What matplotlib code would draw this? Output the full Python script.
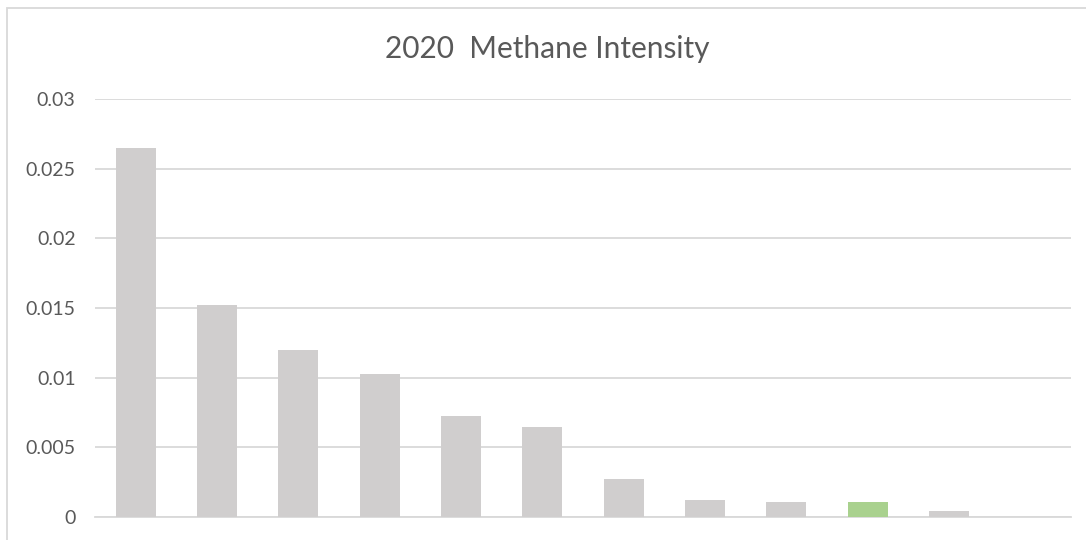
import matplotlib
matplotlib.use("Agg")
import matplotlib.pyplot as plt
from matplotlib.patches import Rectangle

plt.rcParams['font.family'] = ['Lato', 'DejaVu Sans']

# values
categories = [str(i) for i in range(1, 13)]
intensity = [0.0265, 0.0152, 0.0120, 0.01026, 0.00725, 0.00646,
             0.00273, 0.00122, 0.00105, 0.00105, 0.00045, 0.00003]
highlight = 9  # index of the green bar
yticks = [0, 0.005, 0.01, 0.015, 0.02, 0.025, 0.03]
ytick_labels = ["0", "0.005", "0.01", "0.015", "0.02", "0.025", "0.03"]

grey = "#d0cece"
green = "#a9d18e"
text_col = "#595959"
grid_col = "#d9d9d9"

fig = plt.figure(figsize=(10.86, 5.40), dpi=100)
ax = fig.add_axes([95 / 1086, 1 - 517 / 540, (1071 - 95) / 1086, (517 - 99) / 540])

colors = [green if i == highlight else grey for i in range(len(intensity))]
ax.bar(range(len(intensity)), intensity, width=0.49, color=colors, zorder=3)

ax.set_xlim(-0.5, len(intensity) - 0.5)
ax.set_ylim(0, 0.03)
ax.set_yticks(yticks)
ax.set_yticklabels(ytick_labels)
ax.set_xticks([])
ax.tick_params(axis='y', length=0, pad=14, labelsize=14, labelcolor=text_col)
ax.grid(axis='y', color=grid_col, linewidth=1.3, zorder=0)
for s in ['top', 'right', 'left']:
    ax.spines[s].set_visible(False)
ax.spines['bottom'].set_color(grid_col)
ax.spines['bottom'].set_linewidth(1.3)

fig.text(547 / 1086, 1 - 49 / 540, "2020  Methane Intensity", ha='center', va='center',
         fontsize=21.5, color=text_col)

# chart area border
fig.patches.append(Rectangle((7 / 1086, -0.1), 1.2, 1 - 8 / 540 + 0.1, transform=fig.transFigure,
                             fill=False, edgecolor="#d9d9d9", linewidth=1.3))

fig.savefig("out.png", dpi=100)
